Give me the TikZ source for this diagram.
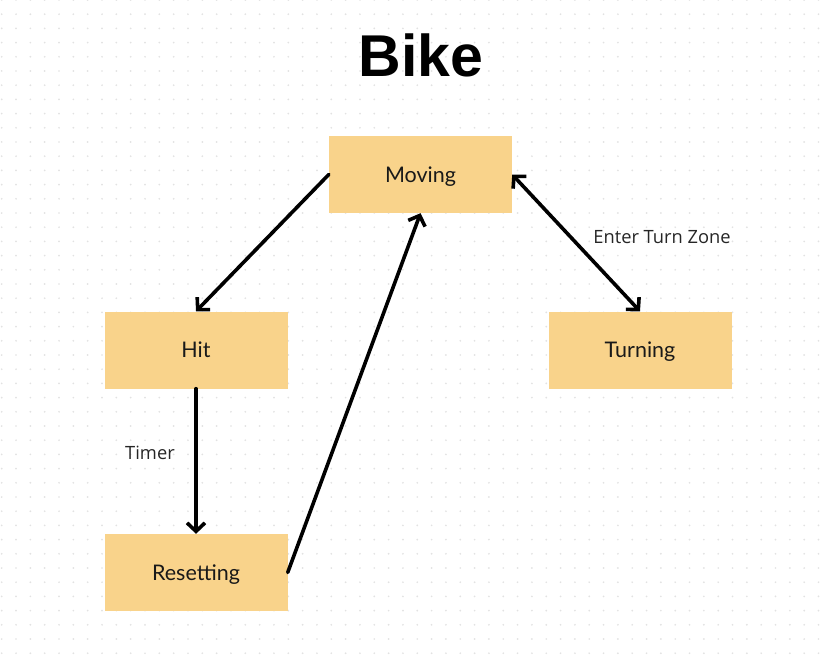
\documentclass[tikz,border=0pt]{standalone}
\usepackage{fontspec}
\setmainfont{Lato}
\newfontfamily\labelfont{Open Sans}
\newfontfamily\titlefont{Liberation Sans}
\usetikzlibrary{arrows.meta}
\definecolor{boxfill}{HTML}{F9D38B}
\definecolor{dotgray}{HTML}{E2E2E2}
\begin{document}
\begin{tikzpicture}[x=1pt,y=-1pt,
  state/.style={fill=boxfill, minimum width=183pt, minimum height=77pt, inner sep=0pt,
    font=\fontsize{21.5}{24}\selectfont, text=black!90, text height=15.5pt, text depth=0pt},
  conn/.style={line width=3.6pt, line cap=round, black},
  tip/.style={-{Straight Barb[length=8.5pt,width=18pt]}},
  elabel/.style={font=\labelfont\fontsize{18.3}{21}\selectfont, text=black!85}]
\useasboundingbox (0,0) rectangle (826,663);
\fill[white] (0,0) rectangle (826,663);
\foreach \i in {0,...,57} {
  \foreach \j in {0,...,46} {
    \fill[dotgray] (1.7+\i*14.33, \j*14.2) circle (0.95);
  }
}
\node[font=\titlefont\bfseries\fontsize{59}{61}\selectfont] (title) at (421,55) {Bike};
\node[state] (moving) at (420.5,174.5) {Moving};
\node[state] (hit) at (196,350) {Hit};
\node[state] (turning) at (640,350) {Turning};
\node[state] (resetting) at (196,572.5) {Resetting};
\draw[conn,tip] (moving.west) -- (hit.north);
\draw[conn,tip] (hit.south) -- (resetting.north);
\draw[conn,tip] (resetting.east) -- (moving.south);
\draw[conn,{Straight Barb[length=8.5pt,width=18pt]}-{Straight Barb[length=8.5pt,width=18pt]}] (moving.east) -- (turning.north);
\node[elabel] (timer) at (150,453) {Timer};
\node[elabel] (enter) at (662,237) {Enter Turn Zone};
\end{tikzpicture}
\end{document}
